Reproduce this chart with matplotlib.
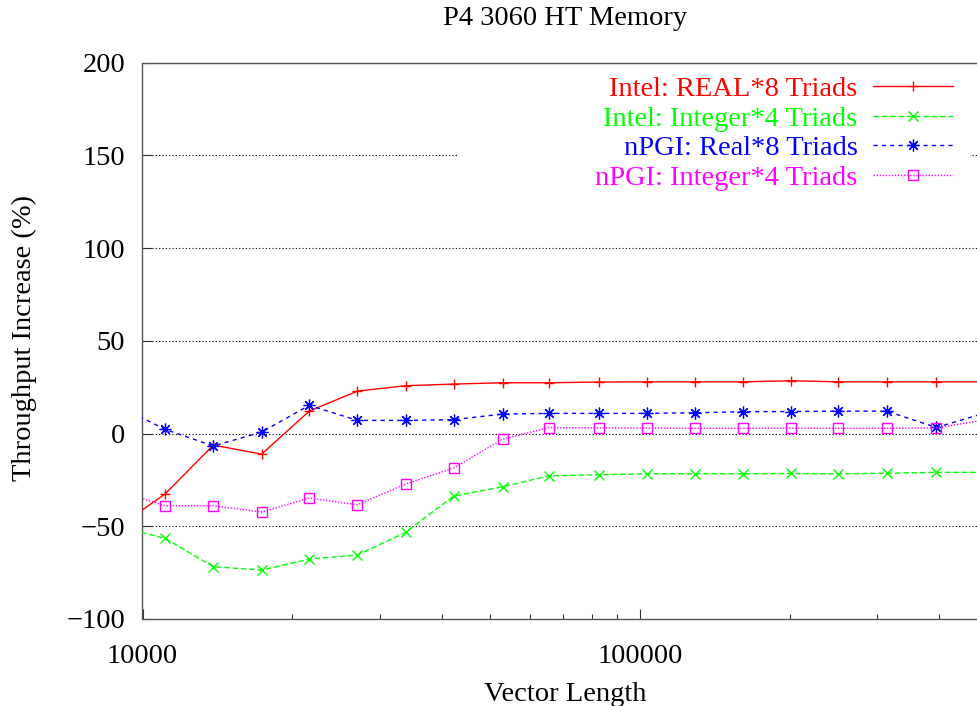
import matplotlib
matplotlib.use("Agg")
import matplotlib.pyplot as plt
from matplotlib.ticker import LogLocator, FixedLocator, FuncFormatter, NullFormatter
from matplotlib.patches import Rectangle
import matplotlib.transforms as mtransforms

plt.rcParams['font.family'] = ['Liberation Serif', 'DejaVu Serif']
FS = 20.5

# ---- data ----
vector_length = [8880, 11100, 13880, 17360, 21640, 27050, 33810, 42230, 52950,
                 65690, 82840, 103500, 129300, 161300, 201300, 250600, 313300,
                 394700, 493000]
intel_real8 = [-50.8, -32.6, -6.2, -11.1, 12.1, 22.9, 25.8, 26.7, 27.4, 27.4,
               27.8, 27.9, 27.9, 27.9, 28.5, 27.9, 27.9, 27.9, 27.9]
intel_int4 = [-50.0, -56.5, -71.8, -73.6, -67.7, -65.5, -53.3, -33.7, -28.7,
              -22.8, -22.2, -21.7, -21.7, -21.7, -21.5, -21.7, -21.4, -20.9, -20.9]
npgi_real8 = [15.2, 2.3, -6.7, 0.8, 15.2, 7.1, 7.1, 7.5, 10.5, 10.9, 10.9, 10.9,
              11.2, 11.8, 11.9, 12.1, 12.1, 3.3, 11.0]
npgi_int4 = [-30.8, -38.9, -38.9, -42.3, -34.8, -38.4, -27.2, -18.6, -3.0, 3.2,
             3.1, 2.9, 2.8, 2.8, 2.9, 2.8, 2.8, 3.1, 7.3]
labels = ["Intel: REAL*8 Triads", "Intel: Integer*4 Triads",
          "nPGI: Real*8 Triads", "nPGI: Integer*4 Triads"]
x_ticks = [10000, 100000]
y_ticks = [-100, -50, 0, 50, 100, 150, 200]

W, H = 978, 706
fig = plt.figure(figsize=(W / 100, H / 100), dpi=100)
left_px, right_px, top_px, bot_px = 142.5, 987.5, 62.7, 619.0
AW, AH = right_px - left_px, bot_px - top_px
ax = fig.add_axes([left_px / W, (H - bot_px) / H, AW / W, AH / H])

ax.set_xscale('log')
ax.set_xlim(10000, 500000)
ax.set_ylim(-100, 200)

styles = [
    dict(color='#ff0000', linestyle='-', marker='+', markersize=7.5, mew=1.0, mfc='none'),
    dict(color='#00ff00', linestyle=(0, (4, 2)), marker='x', markersize=6.5, mew=1.0, mfc='none'),
    dict(color='#0000ff', linestyle=(0, (3, 3)), marker=(8, 2, 0), markersize=8.5, mew=0.9, mfc='none'),
    dict(color='#ff00ff', linestyle=(0, (1, 1.2)), marker='s', markersize=6.5, mew=1.0, mfc='none'),
]
series = [intel_real8, intel_int4, npgi_real8, npgi_int4]
for ys, lab, st in zip(series, labels, styles):
    ax.plot(vector_length, ys, label=lab, lw=1.0, zorder=3, **st)

# grid
ax.set_axisbelow(True)
ax.yaxis.grid(True, color='black', linestyle=(0, (1, 2)), lw=0.8)
ax.xaxis.grid(False)

# white key box hiding grid (as in gnuplot)
trans = mtransforms.blended_transform_factory(ax.transAxes, ax.transData)
ax.add_patch(Rectangle(((457 - left_px) / AW, 131), (970 - 457) / AW, 66, transform=trans,
                       facecolor='white', edgecolor='none', zorder=1))

# ticks
ax.xaxis.set_major_locator(FixedLocator(x_ticks))
ax.xaxis.set_major_formatter(FuncFormatter(lambda v, p: f"{int(round(v))}"))
ax.xaxis.set_minor_locator(LogLocator(base=10, subs=range(2, 10)))
ax.xaxis.set_minor_formatter(NullFormatter())
ax.set_yticks(y_ticks)
ax.tick_params(axis='both', which='major', direction='in', length=7.2, width=0.8,
               labelsize=FS, color='#333333')
ax.tick_params(axis='x', which='major', pad=18)
ax.tick_params(axis='y', which='major', pad=12.5)
ax.tick_params(axis='x', which='minor', direction='in', length=3.6, width=0.8, color='#333333')
for s in ax.spines.values():
    s.set_color('#555555')
    s.set_linewidth(1.0)

ax.set_title("P4 3060 HT Memory", fontsize=FS, pad=27)
ax.set_xlabel("Vector Length", fontsize=FS)
ax.set_ylabel("Throughput Increase (%)", fontsize=FS)
ax.xaxis.set_label_coords((565 - left_px) / AW, (bot_px - 682) / AH)
ax.yaxis.set_label_coords((37 - left_px) / AW, (bot_px - 338) / AH)

leg = ax.legend(loc='upper right', bbox_to_anchor=((953 - left_px) / AW,
                                                     (bot_px - 76) / AH),
                frameon=False, markerfirst=False, fontsize=FS, handlelength=2.8,
                handletextpad=0.55, labelspacing=0.13, borderpad=0.0, borderaxespad=0.0,
                labelcolor='linecolor')

fig.savefig("out.png", dpi=100)
